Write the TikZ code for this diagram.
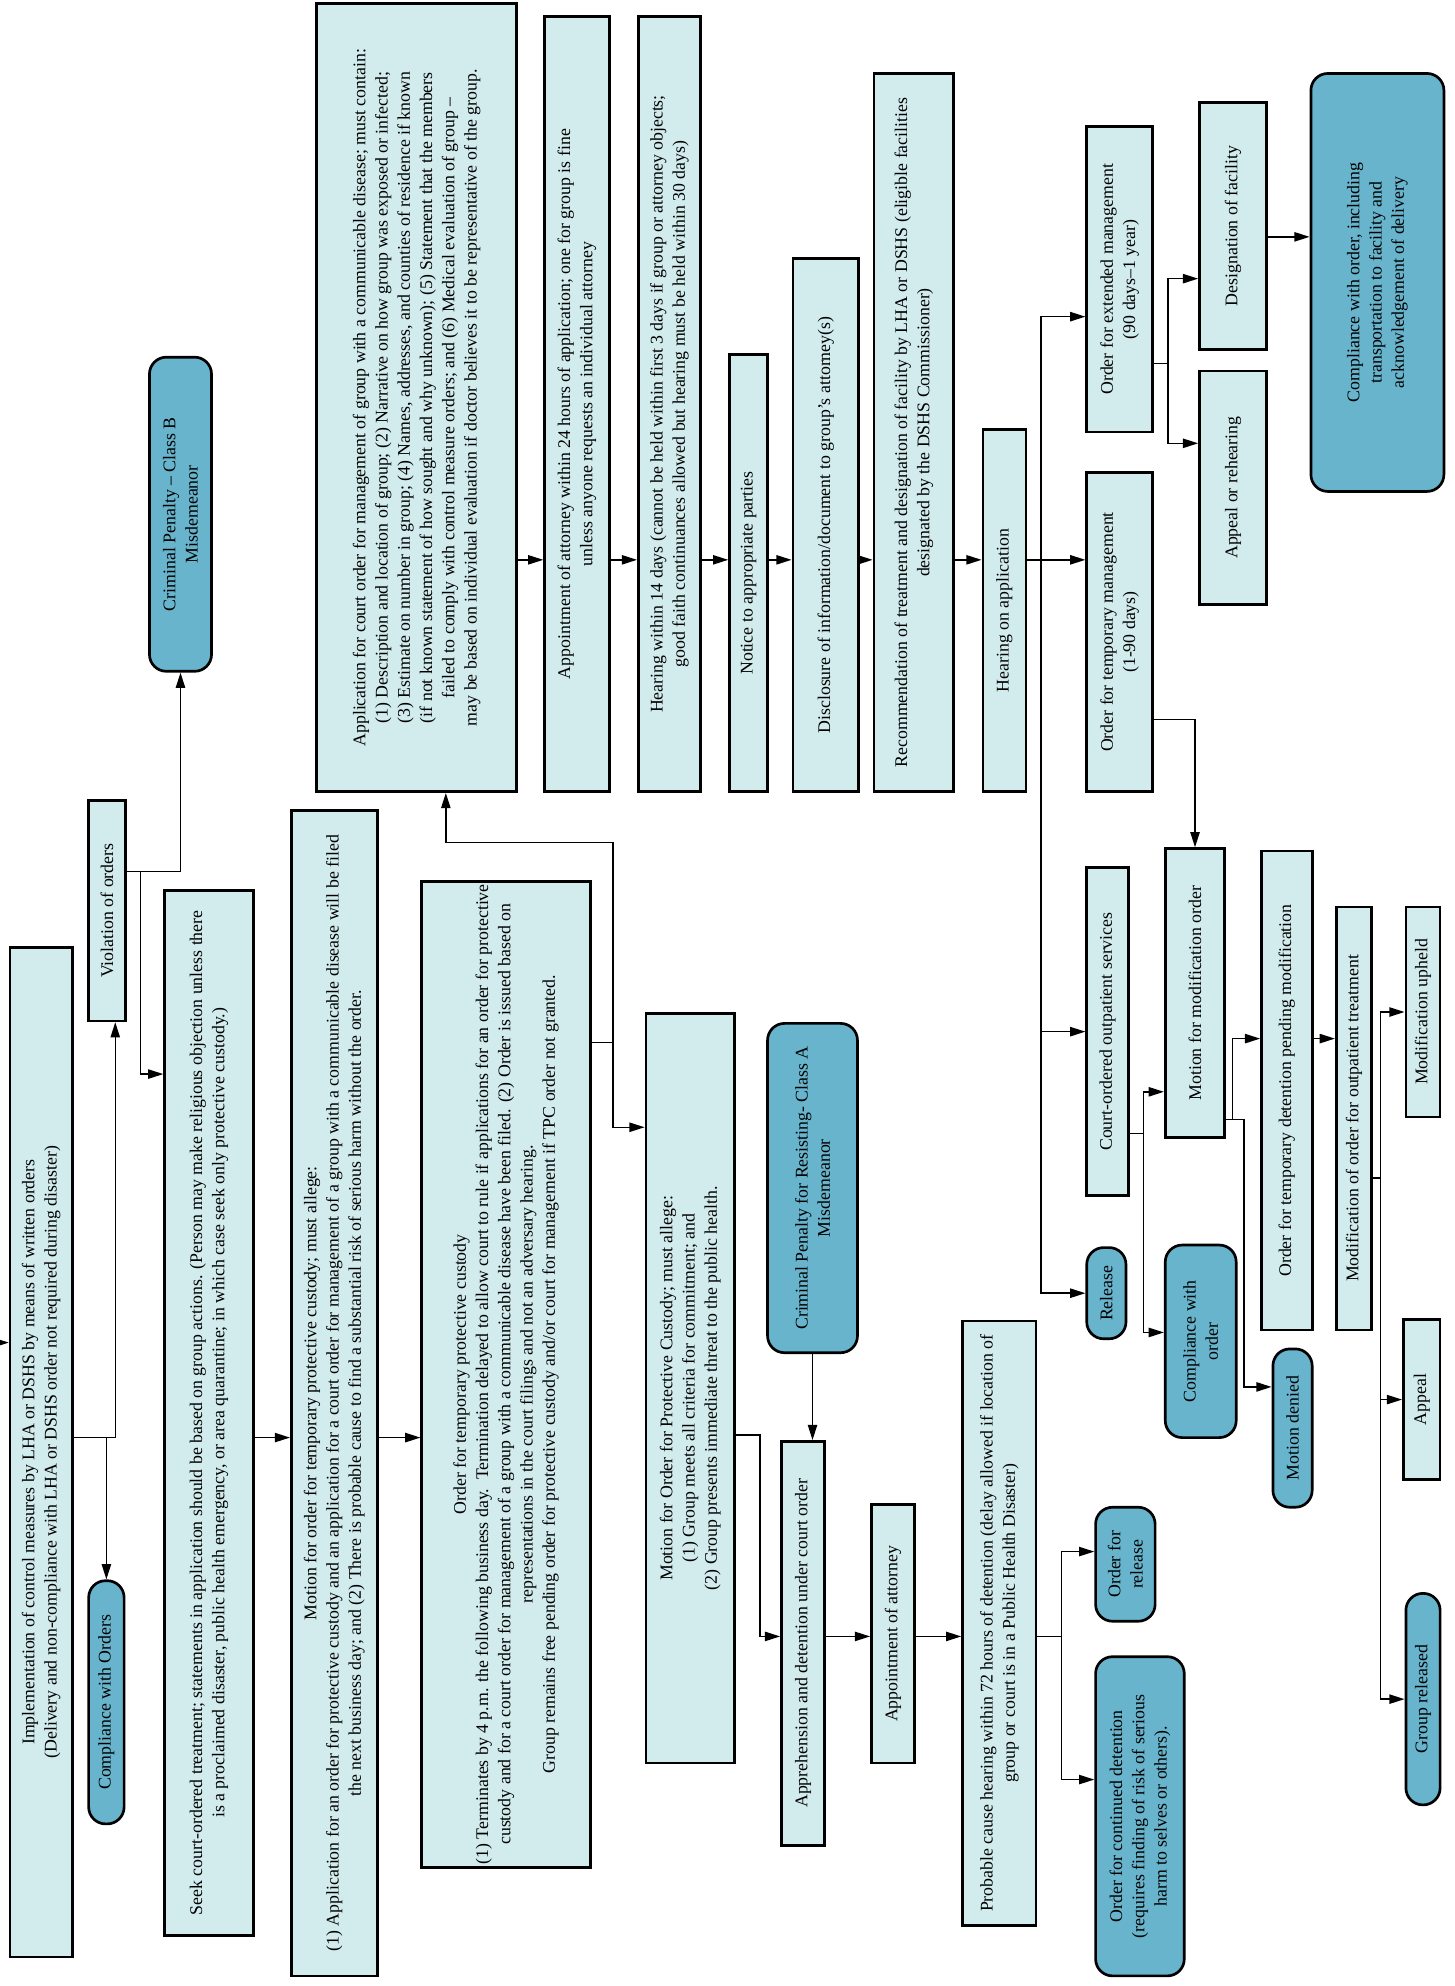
\documentclass[tikz,border=0pt]{standalone}
\usepackage{fontspec}
\setmainfont{Liberation Serif}
\usetikzlibrary{arrows.meta}
\definecolor{boxcyan}{HTML}{D2ECEE}
\definecolor{termblue}{HTML}{67B4CC}
\tikzset{
  proc box/.style = {draw=black, line width=1.8pt, fill=boxcyan, rotate=90,
                     align=center, inner sep=2pt,
                     font=\fontsize{12}{15}\selectfont},
  end box/.style  = {proc box, fill=termblue, rounded corners=0.4cm},
  dims/.style 2 args = {minimum width=#2*0.03cm, minimum height=#1*0.03cm},
  flow/.style = {-{Triangle[length=0.36cm, width=0.22cm]}, line width=1pt},
}

\begin{document}
\begin{tikzpicture}[x=0.03cm, y=-0.03cm]
\useasboundingbox (0,0) rectangle (1148,1568);

% ---------------------------------------------------------------
% Left side: orders, violation, custody motions
% ---------------------------------------------------------------
\node[proc box, dims={49}{797}] (impl) at (32.5,1146.5)
  {Implementation of control measures by LHA or DSHS by means of written orders\\
   (Delivery and non-compliance with LHA or DSHS order not required during disaster)};
\node[end box, dims={28}{192}] (cwo) at (84,1344) {Compliance with Orders};
\node[proc box, dims={29}{174}] (viol) at (84.5,719) {Violation of orders};
\node[end box, dims={49}{248}] (critB) at (142.5,406)
  {Criminal Penalty -- Class B\\Misdemeanor};
\node[proc box, dims={70}{825}] (seek) at (165,1115.5)
  {Seek court-ordered treatment; statements in application should be based on group actions. (Person may make religious objection unless there\\
   is a proclaimed disaster, public health emergency, or area quarantine; in which case seek only protective custody.)};
\node[proc box, dims={68}{920}] (motTPC) at (264,1100)
  {Motion for order for temporary protective custody; must allege:\\
   (1) Application for an order for protective custody and an application for a court order for management of a group with a communicable disease will be filed\\
   the next business day; and (2) There is probable cause to find a substantial risk of serious harm without the order.};
\node[proc box, dims={133}{770}] (ordTPC) at (399.5,1085)
  {Order for temporary protective custody\\
   (1) Terminates by 4 p.m. the following business day.\ \ Termination delayed to allow court to rule if applications for an order for protective\\
   custody and for a court order for management of a group with a communicable disease have been filed. (2) Order is issued based on\\
   representations in the court filings and not an adversary hearing.\\
   Group remains free pending order for protective custody and/or court for management if TPC order not granted.};

% ---------------------------------------------------------------
% Top row: application to hearing
% ---------------------------------------------------------------
\node[proc box, dims={158}{622}] (app) at (329,314)
  {Application for court order for management of group with a communicable disease; must contain:\\
   (1) Description and location of group; (2) Narrative on how group was exposed or infected;\\
   (3) Estimate on number in group; (4) Names, addresses, and counties of residence if known\\
   (if not known statement of how sought and why unknown); (5) Statement that the members\\
   failed to comply with control measure orders; and (6) Medical evaluation of group --\\
   may be based on individual evaluation if doctor believes it to be representative of the group.};
\node[proc box, dims={51}{612}] (appt24) at (455.5,319)
  {Appointment of attorney within 24 hours of application; one for group is fine\\
   unless anyone requests an individual attorney};
\node[proc box, dims={49}{612}] (hear14) at (528.5,319)
  {Hearing within 14 days (cannot be held within first 3 days if group or attorney objects;\\
   good faith continuances allowed but hearing must be held within 30 days)};
\node[proc box, dims={30}{345}] (notice) at (591,452.5) {Notice to appropriate parties};
\node[proc box, dims={52}{421}] (discl) at (652,414.5)
  {Disclosure of information/document to group's attorney(s)};
\node[proc box, dims={63}{567}] (recom) at (721.5,341.5)
  {Recommendation of treatment and designation of facility by LHA or DSHS (eligible facilities\\
   designated by the DSHS Commissioner)};
\node[proc box, dims={34}{286}] (hearApp) at (793,482) {Hearing on application};

% ---------------------------------------------------------------
% Right side: management orders
% ---------------------------------------------------------------
\node[proc box, dims={52}{241}] (ordExt) at (884,220.5)
  {Order for extended management\\(90 days--1 year)};
\node[proc box, dims={52}{252}] (ordTemp) at (884,499)
  {Order for temporary management\\(1-90 days)};
\node[proc box, dims={53}{195}] (desig) at (973.5,178.5) {Designation of facility};
\node[proc box, dims={53}{184}] (appeal1) at (973.5,385) {Appeal or rehearing};
\node[end box, dims={105}{330}] (compl) at (1087.5,223)
  {Compliance with order, including\\transportation to facility and\\acknowledgement of delivery};
\node[proc box, dims={33}{259}] (court) at (874.5,814.5) {Court-ordered outpatient services};
\node[end box, dims={31}{72}] (release) at (873.5,1021) {Release};
\node[proc box, dims={47}{228}] (motMod) at (943.5,784) {Motion for modification order};
\node[end box, dims={56}{152}] (complOrd) at (948,1059) {Compliance with\\order};
\node[proc box, dims={40}{378}] (ordDet) at (1016,861)
  {Order for temporary detention pending modification};
\node[end box, dims={31}{125}] (motDen) at (1020.5,1127.5) {Motion denied};
\node[proc box, dims={28}{334}] (modOut) at (1069,883)
  {Modification of order for outpatient treatment};
\node[proc box, dims={27}{166}] (modUp) at (1123.5,799) {Modification upheld};
\node[proc box, dims={29}{126}] (appeal2) at (1122.5,1105) {Appeal};
\node[end box, dims={27}{167}] (grpRel) at (1123.5,1341.5) {Group released};

% ---------------------------------------------------------------
% Bottom row: protective custody and detention
% ---------------------------------------------------------------
\node[proc box, dims={70}{592}] (motPC) at (545,1096)
  {Motion for Order for Protective Custody; must allege:\\
   (1) Group meets all criteria for commitment; and\\
   (2) Group presents immediate threat to the public health.};
\node[end box, dims={71}{260}] (critA) at (641.5,938)
  {Criminal Penalty for Resisting- Class A\\Misdemeanor};
\node[proc box, dims={34}{319}] (appr) at (634,1297.5)
  {Apprehension and detention under court order};
\node[proc box, dims={34}{204}] (appt) at (705,1290) {Appointment of attorney};
\node[proc box, dims={58}{477}] (prob) at (789,1281.5)
  {Probable cause hearing within 72 hours of detention (delay allowed if location of\\
   group or court is in a Public Health Disaster)};
\node[end box, dims={47}{90}] (ordRel) at (888.5,1235) {Order for\\release};
\node[end box, dims={70}{252}] (ordCont) at (900,1434)
  {Order for continued detention\\(requires finding of risk of serious\\harm to selves or others).};

% ---------------------------------------------------------------
% Junction points
% ---------------------------------------------------------------
\coordinate (entry) at (0,1060);
\coordinate (jViol) at (91,1135);
\coordinate (jV)    at (111,688);
\coordinate (ySeek) at (0,848);
\coordinate (jT)    at (484,823);
\coordinate (jU)    at (352,665);
\coordinate (yPC)   at (0,890);
\coordinate (yT)    at (0,442);
\coordinate (jH)    at (822,442);
\coordinate (yExt)  at (0,250);
\coordinate (jE)    at (922,287);
\coordinate (yDes)  at (0,220);
\coordinate (yApp)  at (0,350);
\coordinate (yD)    at (0,187);
\coordinate (jM)    at (0,568);
\coordinate (jC)    at (903,895);
\coordinate (yMM)   at (0,862);
\coordinate (yCO)   at (0,1052);
\coordinate (jD)    at (973,884);
\coordinate (jN)    at (982,884);
\coordinate (yOD)   at (0,820);
\coordinate (yMD)   at (0,1095);
\coordinate (jO)    at (1090,930);
\coordinate (jP)    at (600,1133);
\coordinate (yL)    at (0,1292);
\coordinate (jQ)    at (838,1292);
\coordinate (yOR)   at (0,1225);
\coordinate (yOC)   at (0,1405);

% ---------------------------------------------------------------
% Connectors
% ---------------------------------------------------------------
\draw[flow] (entry) -- (impl.north |- entry);
\draw[flow] (impl.south |- jViol) -| (jViol |- viol.west);
\draw[flow] (cwo.east |- jViol) -- (cwo.east);
\draw[flow] (viol.south |- jV) -| (critB.west);
\draw[flow] (jV) |- (seek.north |- ySeek);
\draw[flow] (seek.south |- jViol) -- (motTPC.north |- jViol);
\draw[flow] (motTPC.south |- jViol) -- (ordTPC.north |- jViol);
\draw[flow] (ordTPC.south |- jT) -| (jT |- jU) -| (jU |- app.west);
\draw[flow] (jT) |- (motPC.north |- yPC);

\foreach \a/\b in {app/appt24, appt24/hear14, hear14/notice, notice/discl,
                   discl/recom, recom/hearApp}
  \draw[flow] (\a.south |- yT) -- (\b.north |- yT);

\draw[flow] (hearApp.south |- jH) -- (ordTemp.north |- jH);
\draw[flow] (jH) |- (ordExt.north |- yExt);
\draw[flow] (jH) |- (court.north);
\draw[flow] (jH) |- (release.north);

\draw[flow] (ordExt.south |- jE) -| (jE |- yDes) -- (desig.north |- yDes);
\draw[flow] (jE) |- (appeal1.north |- yApp);
\draw[flow] (desig.south |- yD) -- (compl.north |- yD);
\draw[flow] (ordTemp.south |- jM) -| (motMod.east);

\draw[flow] (court.south |- jC) -| (jC |- yMM) -- (motMod.north |- yMM);
\draw[flow] (jC) |- (complOrd.north |- yCO);
\draw[flow] (motMod.south |- jD) -| (jD |- yOD) -- (ordDet.north |- yOD);
\draw[flow] (jD) -- (jN) |- (motDen.north |- yMD);
\draw[flow] (ordDet.south |- yOD) -- (modOut.north |- yOD);
\draw[flow] (modOut.south |- jO) -- (jO) |- (modUp.north);
\draw[flow] (jO) |- (appeal2.north);
\draw[flow] (jO) |- (grpRel.north);

\draw[flow] (critA.west) -- (critA.west |- appr.east);
\draw[flow] (motPC.south |- jP) -| (jP |- yL) -- (appr.north |- yL);
\draw[flow] (appr.south |- yL) -- (appt.north |- yL);
\draw[flow] (appt.south |- yL) -- (prob.north |- yL);
\draw[flow] (prob.south |- jQ) -- (jQ) |- (ordRel.north |- yOR);
\draw[flow] (jQ) |- (ordCont.north |- yOC);

\end{tikzpicture}
\end{document}
